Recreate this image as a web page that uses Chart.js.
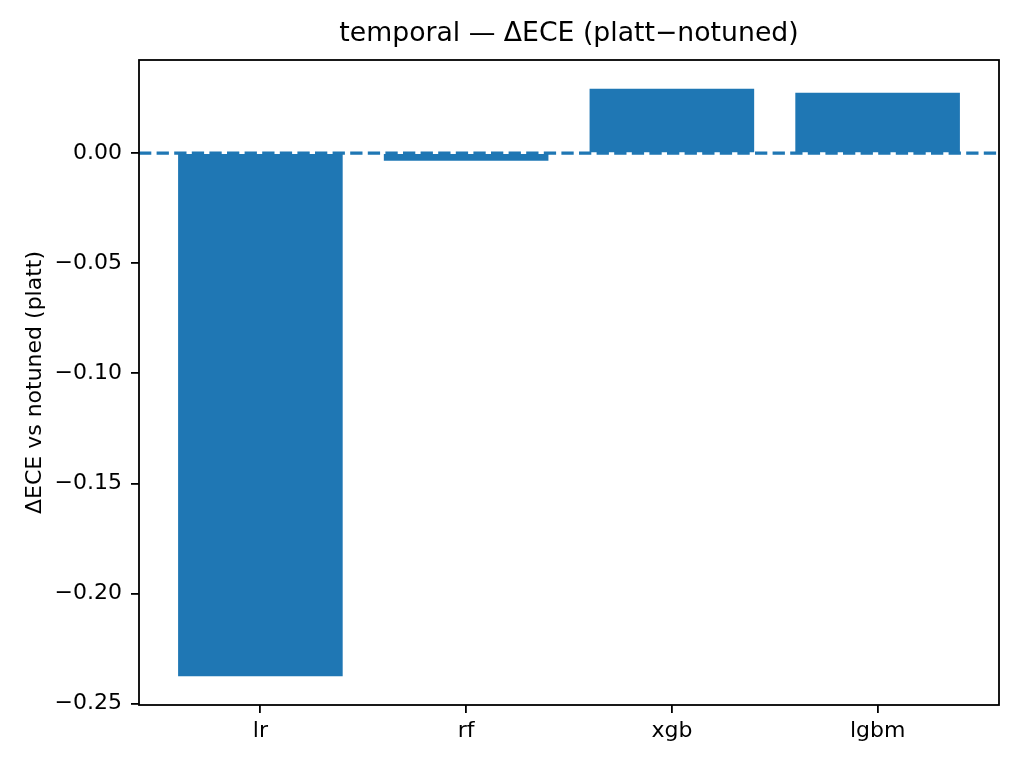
<!DOCTYPE html>
<html>
<head>
<meta charset="utf-8">
<script src="https://cdn.jsdelivr.net/npm/chart.js@4/dist/chart.umd.min.js"></script>
<style>
  html, body { margin: 0; padding: 0; background: #fff; }
  #wrap { width: 1024px; height: 768px; }
</style>
</head>
<body>
<div id="wrap"><canvas id="deltaChart" width="1024" height="768"></canvas></div>
<script>
// values
const models = ['lr', 'rf', 'xgb', 'lgbm'];
const deltaEce = [-0.2375, -0.0035, 0.0292, 0.0274];
const yTicks = [-0.25, -0.20, -0.15, -0.10, -0.05, 0.00];
const xLimits = [-0.59, 3.59];
const yLimits = [-0.2506, 0.0423];
const zeroLine = [0, 0];

const barColor = '#1f77b4';
const titleText = 'temporal \u2014 \u0394ECE (platt\u2212notuned)';

// black box round the plot area, like matplotlib spines
const frame = {
  id: 'frame',
  afterDatasetsDraw(chart) {
    const a = chart.chartArea;
    const ctx = chart.ctx;
    ctx.save();
    ctx.strokeStyle = '#000';
    ctx.lineWidth = 1.8;
    ctx.strokeRect(a.left, a.top, a.right - a.left, a.bottom - a.top);
    ctx.restore();
  }
};

// title centred over the plot area rather than the whole canvas
const plotTitle = {
  id: 'plotTitle',
  afterDraw(chart) {
    const a = chart.chartArea;
    const ctx = chart.ctx;
    ctx.save();
    ctx.fillStyle = '#000';
    ctx.font = '26.7px "DejaVu Sans"';
    ctx.textAlign = 'center';
    ctx.textBaseline = 'alphabetic';
    ctx.fillText(titleText, (a.left + a.right) / 2, 41);
    ctx.restore();
  }
};

function fmt(v) {
  const s = Math.abs(v) < 1e-9 ? '0.00' : v.toFixed(2);
  return s.replace('-', '\u2212');
}

const ctx = document.getElementById('deltaChart').getContext('2d');

new Chart(ctx, {
  type: 'bar',
  data: {
    datasets: [
      {
        type: 'line',
        data: xLimits.map((x, i) => ({ x: x, y: zeroLine[i] })),
        borderColor: barColor,
        borderWidth: 3.3,
        borderDash: [12.3, 5.3],
        pointRadius: 0,
        fill: false,
        order: 0
      },
      {
        type: 'bar',
        data: models.map((m, i) => ({ x: i, y: deltaEce[i] })),
        backgroundColor: barColor,
        borderWidth: 0,
        categoryPercentage: 1.0,
        barPercentage: 0.8,
        order: 1
      }
    ]
  },
  options: {
    responsive: false,
    animation: false,
    devicePixelRatio: 1,
    layout: { padding: { left: 0, right: 25, top: 60, bottom: 0 } },
    plugins: {
      legend: { display: false },
      tooltip: { enabled: false },
      title: { display: false }
    },
    scales: {
      x: {
        type: 'linear',
        offset: false,
        min: xLimits[0],
        max: xLimits[1],
        afterBuildTicks: axis => { axis.ticks = models.map((m, i) => ({ value: i })); },
        afterFit: axis => { axis.height = 63; },
        ticks: {
          color: '#000',
          font: { family: 'DejaVu Sans', size: 22 },
          padding: 5,
          maxRotation: 0,
          autoSkip: false,
          callback: v => models[v]
        },
        grid: {
          display: true,
          offset: false,
          drawOnChartArea: false,
          drawTicks: true,
          tickLength: 8,
          color: '#000',
          lineWidth: 1.8
        },
        border: { display: false }
      },
      y: {
        type: 'linear',
        min: yLimits[0],
        max: yLimits[1],
        afterBuildTicks: axis => { axis.ticks = yTicks.map(v => ({ value: v })); },
        afterFit: axis => { axis.width = 139; },
        ticks: {
          color: '#000',
          font: { family: 'DejaVu Sans', size: 22 },
          padding: 9,
          callback: v => fmt(v)
        },
        grid: {
          display: true,
          drawOnChartArea: false,
          drawTicks: true,
          tickLength: 8,
          color: '#000',
          lineWidth: 1.8
        },
        border: { display: false },
        title: {
          display: true,
          text: '\u0394ECE vs notuned (platt)',
          color: '#000',
          font: { family: 'DejaVu Sans', size: 22 },
          padding: { top: 22, bottom: 0 }
        }
      }
    }
  },
  plugins: [frame, plotTitle]
});
</script>
</body>
</html>
